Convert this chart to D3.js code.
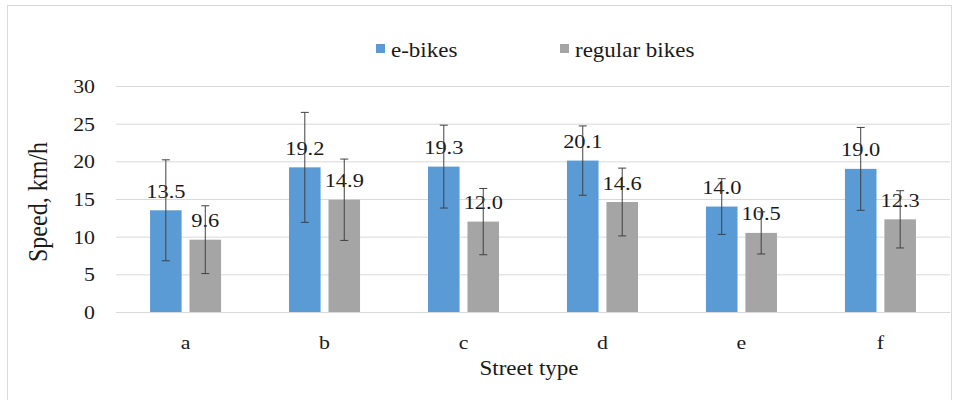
<!DOCTYPE html>
<html>
<head>
<meta charset="utf-8">
<script src="https://cdn.jsdelivr.net/npm/d3@7"></script>
<style>
  body { margin: 0; background: #fff; }
  svg text { font-family: "Liberation Serif", "Times New Roman", serif; fill: #1a1a1a; }
</style>
</head>
<body>
<div id="chart"></div>
<script>
"use strict";

// data
var streetTypes = ["a", "b", "c", "d", "e", "f"];
var seriesNames = ["e-bikes", "regular bikes"];
var eBikes = [13.5, 19.2, 19.3, 20.1, 14.0, 19.0];
var regularBikes = [9.6, 14.9, 12.0, 14.6, 10.5, 12.3];
var eBikesErr = [6.7, 7.3, 5.5, 4.6, 3.7, 5.5];
var regularBikesErr = [4.5, 5.4, 4.4, 4.5, 2.8, 3.8];
var yTicks = [0, 5, 10, 15, 20, 25, 30];

var colors = ["#5b9bd5", "#a5a5a5"];
var SX = 1.15; // the picture's text is a bit stretched sideways
var FONT = "'Liberation Serif', 'Times New Roman', serif";

var W = 955, H = 400;
var margin = { top: 86, right: 5, bottom: 88, left: 116 };
var width = W - margin.left - margin.right,
    height = H - margin.top - margin.bottom;

var svg = d3.select("#chart")
            .append("svg")
            .attr("width", W)
            .attr("height", H)
            .attr("font-family", FONT);

// outer frame
svg.append("rect")
   .attr("x", 7.5).attr("y", 5.5)
   .attr("width", 944).attr("height", 400)
   .attr("fill", "none")
   .attr("stroke", "#d9d9d9");

var g = svg.append("g")
           .attr("transform", "translate(" + margin.left + "," + margin.top + ")");

var y = d3.scaleLinear().domain([0, 30]).range([height, 0]);

var x0 = d3.scaleBand()
           .domain(streetTypes)
           .range([0, width])
           .paddingInner(0.489)
           .paddingOuter(0.245);

var x1 = d3.scaleBand()
           .domain(seriesNames)
           .range([0, x0.bandwidth()])
           .paddingInner(0.2);

// gridlines + y tick labels
var yAxis = d3.axisLeft(y).tickValues(yTicks).tickSize(-width).tickPadding(0);
var yG = g.append("g").call(yAxis).attr("font-family", FONT);
yG.select(".domain").remove();
yG.selectAll(".tick line").attr("stroke", "#d9d9d9");
yG.selectAll(".tick text")
  .attr("x", -21 / SX)
  .attr("dy", "0.34em")
  .attr("transform", "scale(" + SX + ",1)")
  .style("font-size", "19px")
  .attr("fill", "#1a1a1a");

// x axis
var xAxis = d3.axisBottom(x0).tickSize(0).tickSizeOuter(0);
var xG = g.append("g")
          .attr("transform", "translate(0," + height + ")")
          .call(xAxis)
          .attr("font-family", FONT);
xG.select(".domain").attr("stroke", "#d9d9d9");
xG.selectAll(".tick text")
  .attr("y", 37)
  .attr("dy", 0)
  .attr("transform", "scale(" + SX + ",1)")
  .style("font-size", "19px")
  .attr("fill", "#1a1a1a");

var rows = streetTypes.map(function (d, i) {
  return {
    type: d,
    bars: [
      { name: seriesNames[0], value: eBikes[i], err: eBikesErr[i] },
      { name: seriesNames[1], value: regularBikes[i], err: regularBikesErr[i] }
    ]
  };
});

var groups = g.selectAll(".grp")
              .data(rows)
              .enter()
              .append("g")
              .attr("transform", function (d) { return "translate(" + x0(d.type) + ",0)"; });

groups.selectAll("rect")
      .data(function (d) { return d.bars; })
      .enter()
      .append("rect")
      .attr("x", function (d) { return x1(d.name); })
      .attr("y", function (d) { return y(d.value); })
      .attr("width", x1.bandwidth())
      .attr("height", function (d) { return height - y(d.value); })
      .attr("fill", function (d, i) { return colors[i]; });

// value labels
groups.selectAll(".lbl")
      .data(function (d) { return d.bars; })
      .enter()
      .append("text")
      .attr("text-anchor", "middle")
      .attr("transform", function (d) {
        return "translate(" + (x1(d.name) + x1.bandwidth() / 2) + "," + (y(d.value) - 12.5) + ") scale(" + SX + ",1)";
      })
      .style("font-size", "19.5px")
      .text(function (d) { return d.value.toFixed(1); });

// error bars
var err = groups.selectAll(".err")
                .data(function (d) { return d.bars; })
                .enter()
                .append("g")
                .attr("stroke", "#404040")
                .attr("stroke-width", 1);

err.append("line")
   .attr("x1", function (d) { return x1(d.name) + x1.bandwidth() / 2; })
   .attr("x2", function (d) { return x1(d.name) + x1.bandwidth() / 2; })
   .attr("y1", function (d) { return y(d.value + d.err); })
   .attr("y2", function (d) { return y(d.value - d.err); });

[1, -1].forEach(function (s) {
  err.append("line")
     .attr("x1", function (d) { return x1(d.name) + x1.bandwidth() / 2 - 4; })
     .attr("x2", function (d) { return x1(d.name) + x1.bandwidth() / 2 + 4; })
     .attr("y1", function (d) { return y(d.value + s * d.err); })
     .attr("y2", function (d) { return y(d.value + s * d.err); });
});

// axis titles
svg.append("text")
   .attr("text-anchor", "middle")
   .attr("transform", "translate(" + (margin.left + width / 2 - 4) + ",375) scale(" + SX + ",1)")
   .style("font-size", "20px")
   .text("Street type");

svg.append("text")
   .attr("text-anchor", "middle")
   .attr("transform", "translate(47," + (margin.top + height / 2 + 3) + ") rotate(-90) scale(1," + SX + ")")
   .style("font-size", "24px")
   .text("Speed, km/h");

// legend
var legendX = [376, 560];
var legend = svg.selectAll(".legend")
                .data(seriesNames)
                .enter()
                .append("g")
                .attr("transform", function (d, i) { return "translate(" + legendX[i] + ",44)"; });

legend.append("rect")
      .attr("width", 9)
      .attr("height", 9)
      .attr("fill", function (d, i) { return colors[i]; });

legend.append("text")
      .attr("transform", "translate(15,12.5) scale(" + SX + ",1)")
      .style("font-size", "20px")
      .text(function (d) { return d; });
</script>
</body>
</html>
